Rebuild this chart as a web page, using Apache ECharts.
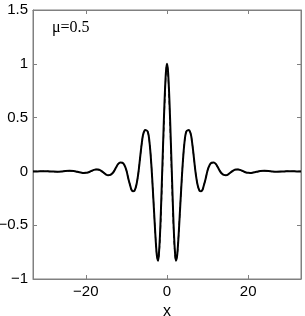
<!DOCTYPE html>
<html>
<head>
<meta charset="utf-8">
<script src="https://cdn.jsdelivr.net/npm/echarts@6/dist/echarts.min.js"></script>
<style>html,body{margin:0;padding:0;background:#fff;}#c{width:305px;height:316px;}</style>
</head>
<body>
<div id="c"></div>
<script>
var xValues = [-33,-32,-31,-30,-29,-28,-27,-26,-25,-24,-23,-22,-21,
-20.5,-20,-19.5,-19,-18.5,-18,-17.5,-17,-16.5,-16,-15.5,-15,-14.5,-14,-13.5,-13,-12.5,-12,-11.5,-11,-10.5,-10,-9.5,
-9,-8.75,-8.4,-8,-7.5,-7,-6.5,-6,-5.75,-5.4,-5,-4.75,-4.5,-4.25,-4,-3.75,-3.5,-3.25,-3,-2.75,-2.5,-2.2,-2,-1.75,-1.5,-1.25,-1,-0.75,-0.5,-0.25,
0,
0.25,0.5,0.75,1,1.25,1.5,1.75,2,2.2,2.5,2.75,3,3.25,3.5,3.75,4,4.25,4.5,4.75,5,5.4,5.75,6,6.5,7,7.5,8,8.4,8.75,9,
9.5,10,10.5,11,11.5,12,12.5,13,13.5,14,14.5,15,15.5,16,16.5,17,17.5,18,18.5,19,19.5,20,20.5,
21,22,23,24,25,26,27,28,29,30,31,32,33];

var solidValues = [0,0,0.001,0.002,0,-0.002,-0.003,-0.001,0.003,0.005,0.003,-0.004,-0.012,
-0.014,-0.013,-0.01,-0.003,0.006,0.014,0.018,0.017,0.012,0,-0.015,-0.03,-0.036,-0.033,-0.02,0.005,0.04,0.07,0.082,0.08,0.06,0.01,-0.07,
-0.14,-0.17,-0.185,-0.18,-0.12,0,0.17,0.32,0.36,0.385,0.38,0.37,0.33,0.25,0.14,0,-0.16,-0.33,-0.5,-0.66,-0.78,-0.83,-0.77,-0.61,-0.37,-0.08,0.21,0.5,0.75,0.93,
1.0,
0.93,0.75,0.5,0.21,-0.08,-0.37,-0.61,-0.77,-0.83,-0.78,-0.66,-0.5,-0.33,-0.16,0,0.14,0.25,0.33,0.37,0.38,0.385,0.36,0.32,0.17,0,-0.12,-0.18,-0.185,-0.17,-0.14,
-0.07,0.01,0.06,0.08,0.082,0.07,0.04,0.005,-0.02,-0.033,-0.036,-0.03,-0.015,0,0.012,0.017,0.018,0.014,0.006,-0.003,-0.01,-0.013,-0.014,
-0.012,-0.004,0.003,0.005,0.003,-0.001,-0.003,-0.002,0,0.002,0.001,0,0];

var dashedValues = [0,0,0.001,0.002,0,-0.002,-0.003,-0.001,0.003,0.005,0.003,-0.004,-0.012,
-0.014,-0.013,-0.01,-0.003,0.006,0.014,0.018,0.017,0.012,0,-0.015,-0.03,-0.036,-0.033,-0.02,0.005,0.04,0.07,0.082,0.08,0.06,0.01,-0.07,
-0.14,-0.17,-0.185,-0.18,-0.12,0,0.17,0.32,0.36,0.385,0.38,0.37,0.33,0.25,0.14,0,-0.16,-0.33,-0.5,-0.66,-0.78,-0.83,-0.79,-0.65,-0.43,-0.15,0.14,0.44,0.70,0.91,
1.0,
0.91,0.70,0.44,0.14,-0.15,-0.43,-0.65,-0.79,-0.83,-0.78,-0.66,-0.5,-0.33,-0.16,0,0.14,0.25,0.33,0.37,0.38,0.385,0.36,0.32,0.17,0,-0.12,-0.18,-0.185,-0.17,-0.14,
-0.07,0.01,0.06,0.08,0.082,0.07,0.04,0.005,-0.02,-0.033,-0.036,-0.03,-0.015,0,0.012,0.017,0.018,0.014,0.006,-0.003,-0.01,-0.013,-0.014,
-0.012,-0.004,0.003,0.005,0.003,-0.001,-0.003,-0.002,0,0.002,0.001,0,0];

var xTicks = [-20, 0, 20];
var yTicks = [-1, -0.5, 0, 0.5, 1, 1.5];
var annotation = 'μ=0.5';
var xName = 'x';

function zip(xs, ys){ var r=[]; for (var i=0;i<xs.length;i++) r.push([xs[i], ys[i]]); return r; }
function fmt(v){ return String(v).replace('-', '\u2212'); }

var axisColor = '#808080';
var labelFont = {color:'#000', fontFamily:'Liberation Sans', fontSize:15};

var chart = echarts.init(document.getElementById('c'), null, {renderer:'canvas'});
chart.setOption({
  animation:false,
  backgroundColor:'#fff',
  grid:{left:33, right:4, top:10, bottom:37, show:true, borderColor:axisColor, borderWidth:1,
        containLabel:false, outerBoundsMode:'none'},
  xAxis:[
    {type:'value', min:-33, max:33, position:'bottom',
     axisLine:{show:true, onZero:false, lineStyle:{color:axisColor}},
     axisTick:{show:true, inside:true, length:4, customValues:xTicks, lineStyle:{color:axisColor}},
     axisLabel:Object.assign({customValues:xTicks, margin:5, formatter:fmt}, labelFont),
     splitLine:{show:false},
     name:xName, nameLocation:'middle', nameGap:21,
     nameTextStyle:{color:'#000', fontFamily:'Liberation Sans', fontSize:16}},
    {type:'value', min:-33, max:33, position:'top',
     axisLine:{show:true, onZero:false, lineStyle:{color:axisColor}},
     axisTick:{show:true, inside:true, length:4, customValues:xTicks, lineStyle:{color:axisColor}},
     axisLabel:{show:false}, splitLine:{show:false}}
  ],
  yAxis:[
    {type:'value', min:-1, max:1.5, interval:0.5, position:'left',
     axisLine:{show:true, onZero:false, lineStyle:{color:axisColor}},
     axisTick:{show:true, inside:true, length:4, lineStyle:{color:axisColor}},
     axisLabel:Object.assign({margin:5, formatter:fmt}, labelFont),
     splitLine:{show:false}},
    {type:'value', min:-1, max:1.5, interval:0.5, position:'right',
     axisLine:{show:true, onZero:false, lineStyle:{color:axisColor}},
     axisTick:{show:true, inside:true, length:4, lineStyle:{color:axisColor}},
     axisLabel:{show:false}, splitLine:{show:false}}
  ],
  graphic:[{type:'text', left:52, top:20,
    style:{text:annotation, fill:'#000', font:'16px "Liberation Serif"'}}],
  series:[
    {type:'line', data:zip(xValues, solidValues), showSymbol:false, smooth:0.3,
     lineStyle:{color:'#000', width:2}, clip:true, z:3},
    {type:'line', data:zip(xValues, dashedValues), showSymbol:false, smooth:0.3,
     lineStyle:{color:'#000', width:1.2, type:[4,3]}, clip:true, z:4}
  ]
});
</script>
</body>
</html>
